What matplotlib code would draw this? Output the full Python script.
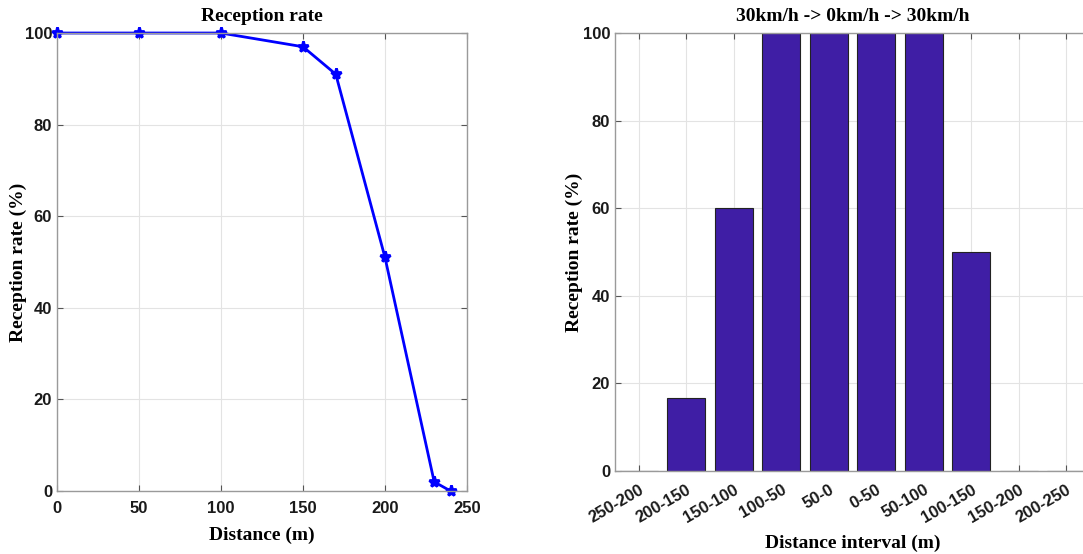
import matplotlib
matplotlib.use("Agg")
import matplotlib.pyplot as plt
import numpy as np

# left panel: reception rate vs distance
dist = [0, 50, 100, 150, 170, 200, 230, 240]
rate = [100, 100, 100, 97, 91, 51, 2, 0]

# right panel: reception rate per distance interval
intervals = ["250-200", "200-150", "150-100", "100-50", "50-0",
             "0-50", "50-100", "100-150", "150-200", "200-250"]
interval_rate = [0, 16.7, 60, 100, 100, 100, 100, 50, 0, 0]

TICKFAM = "Liberation Sans"
LABFONT = dict(family="Liberation Serif", size=14, weight="bold")
SPINE = "#9a9a9a"


def style(ax):
    ax.grid(True, color="#e3e3e3", lw=0.8)
    ax.set_axisbelow(True)
    ax.tick_params(direction="in", top=True, right=True, length=4,
                   color="#555555", width=0.8)
    for s in ax.spines.values():
        s.set_color(SPINE)
        s.set_linewidth(1.0)
    for lab in ax.get_xticklabels() + ax.get_yticklabels():
        lab.set_fontfamily(TICKFAM)
        lab.set_fontsize(12)
        lab.set_fontweight("bold")
        lab.set_color("#1a1a1a")


fig = plt.figure(figsize=(10.83, 5.54), dpi=100)

ax1 = fig.add_axes([0.0526, 0.1137, 0.3786, 0.8267])
ax1.plot(dist, rate, color="#0000ff", lw=2, marker="*", ms=8, mew=2)
ax1.set_xlim(0, 250)
ax1.set_ylim(0, 100)
ax1.set_xticks(np.arange(0, 251, 50))
ax1.set_yticks(np.arange(0, 101, 20))
ax1.set_xlabel("Distance (m)", **LABFONT, labelpad=8)
ax1.set_ylabel("Reception rate (%)", **LABFONT)
ax1.yaxis.set_label_coords(-0.073, 0.5)
ax1.set_title("Reception rate", **LABFONT, pad=9)
style(ax1)
ax1.tick_params(axis="x", pad=7)
for line in ax1.lines:
    line.set_clip_on(False)

ax2 = fig.add_axes([0.5679, 0.1498, 0.4386, 0.7906])
pos = np.arange(1, len(intervals) + 1)
ax2.bar(pos, interval_rate, width=0.8, color="#3f1ea5", edgecolor="#222222",
        linewidth=0.8)
ax2.set_xlim(0.5, 10.5)
ax2.set_ylim(0, 100)
ax2.set_xticks(pos)
ax2.set_xticklabels(intervals, rotation=30, ha="right", rotation_mode="anchor")
ax2.set_yticks(np.arange(0, 101, 20))
ax2.set_xlabel("Distance interval (m)", **LABFONT, labelpad=7)
ax2.set_ylabel("Reception rate (%)", **LABFONT)
ax2.yaxis.set_label_coords(-0.067, 0.5)
ax2.set_title("30km/h -> 0km/h -> 30km/h", **LABFONT, pad=9)
style(ax2)
ax2.tick_params(axis="x", pad=8)

fig.savefig("out.png", dpi=100)
